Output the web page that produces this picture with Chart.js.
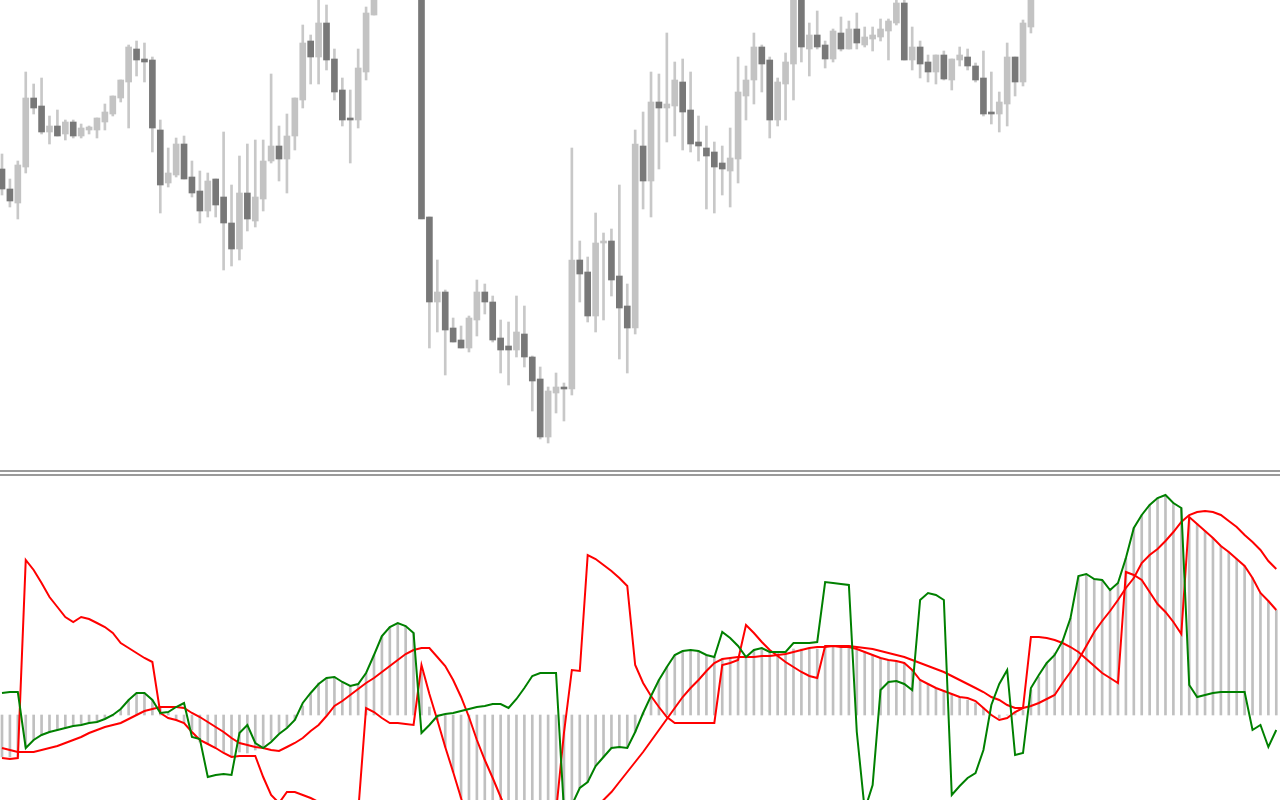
<!DOCTYPE html>
<html>
<head>
<meta charset="utf-8">
<script src="https://cdn.jsdelivr.net/npm/chart.js@4.4.1/dist/chart.umd.min.js"></script>
<style>
  html, body { margin: 0; padding: 0; background: #fff; overflow: hidden; }
  #wrap { position: relative; width: 1280px; height: 800px; }
  #priceChart { position: absolute; left: 0; top: 0; }
  #sep { position: absolute; left: 0; top: 470px; width: 1280px; height: 2px;
         border-top: 2px solid #9a9a9a; border-bottom: 2px solid #9a9a9a; }
  #oscChart { position: absolute; left: 0; top: 477px; }
</style>
</head>
<body>
<div id="wrap">
  <canvas id="priceChart" width="1280" height="470" style="width:1280px;height:470px"></canvas>
  <div id="sep"></div>
  <canvas id="oscChart" width="1280" height="323" style="width:1280px;height:323px"></canvas>
</div>
<script>
// candles (null = above the visible window)
const openP = [
  1831,1811,1797,1833,1902,1894,1868,1874,1866,1878,
  1864,1870,1870,1878,1886,1902,1918,1951,1941,1940,
  1870,1817,1825,1856,1823,1809,1789,1821,1803,1777,
  1751,1807,1779,1801,1839,1854,1841,1864,1900,1959,
  1943,1977,1941,1910,1882,1880,1928,1985,null,null,
  null,null,null,2030,1783,1698,1708,1672,1660,1652,
  1680,1708,1698,1662,1654,1650,1666,1643,1621,1563,
  1607,1613,1611,1740,1728,1684,1757,1759,1724,1694,
  1672,1854,1819,1898,1892,1894,1918,1890,1858,1852,
  1848,1837,1829,1841,1904,1920,1953,1940,1880,1916,
  1936,2000,1951,1965,1955,1941,1967,1951,1971,1955,
  1961,1963,1969,1977,1997,1940,1953,1938,1928,1945,
  1920,1940,1943,1934,1922,1888,1886,1896,1943,1918,
  1973
];
const highP = [
  1846,1821,1839,1928,1916,1922,1884,1890,1880,1880,
  1876,1874,1882,1896,1904,1920,1955,1959,1957,1943,
  1880,1852,1862,1864,1839,1829,1827,1821,1868,1815,
  1844,1856,1860,1860,1926,1874,1886,1902,1975,1965,
  2005,1995,1951,1922,1910,1951,1993,2020,null,null,
  null,null,null,2040,1783,1740,1710,1682,1674,1684,
  1720,1716,1704,1680,1678,1704,1694,1644,1633,1613,
  1627,1617,1852,1759,1743,1787,1767,1771,1815,1716,
  1870,1888,1928,1926,1967,1938,1941,1928,1884,1874,
  1858,1854,1872,1943,1934,1967,1955,1943,1922,1947,
  2010,2005,1977,1989,1959,1971,1983,1979,1987,1973,
  1973,1981,1981,2003,2002,1973,1959,1945,1945,1949,
  1941,1953,1951,1937,1949,1928,1908,1957,1943,1980,
  2010
];
const lowP = [
  1805,1793,1781,1827,1886,1866,1856,1864,1860,1862,
  1862,1866,1862,1870,1884,1898,1872,1924,1918,1848,
  1787,1813,1823,1821,1803,1777,1783,1783,1730,1734,
  1740,1769,1773,1789,1837,1819,1807,1850,1892,1916,
  1916,1930,1900,1874,1837,1872,1920,1985,null,null,
  null,null,null,1781,1652,1668,1625,1658,1652,1648,
  1664,1686,1658,1627,1615,1643,1633,1589,1561,1557,
  1587,1579,1605,1698,1678,1668,1680,1704,1641,1627,
  1666,1791,1783,1831,1858,1864,1850,1848,1839,1791,
  1787,1805,1793,1817,1880,1896,1908,1862,1874,1880,
  1900,1938,1924,1951,1932,1938,1949,1951,1951,1953,
  1949,1959,1940,1975,1940,1930,1922,1918,1916,1920,
  1910,1934,1930,1918,1884,1876,1868,1874,1904,1914,
  1967
];
const closeP = [
  1811,1799,1835,1902,1892,1868,1874,1864,1878,1864,
  1872,1873,1882,1888,1904,1920,1953,1940,1938,1872,
  1815,1827,1856,1821,1807,1789,1819,1795,1777,1751,
  1807,1781,1803,1839,1854,1841,1864,1902,1957,1943,
  1977,1940,1908,1880,1880,1932,1987,2010,null,null,
  null,null,null,1781,1698,1708,1670,1658,1652,1682,
  1708,1698,1660,1650,1650,1668,1643,1619,1563,1609,
  1613,1611,1740,1726,1684,1757,1759,1720,1692,1672,
  1856,1819,1898,1892,1896,1920,1888,1856,1854,1844,
  1833,1831,1842,1908,1920,1953,1936,1880,1918,1938,
  2003,1953,1965,1953,1941,1969,1951,1971,1957,1963,
  1965,1971,1979,1997,1940,1953,1936,1928,1945,1921,
  1941,1945,1934,1920,1886,1886,1898,1943,1918,1977,
  2005
];

// oscillator window
const greenLine = [
  22,23,23,-33,-25,-20,-17,-15,-13,-11,
  -10,-8,-7,-4,0,6,15,22,22,15,
  2,3,8,12,-22,-24,-62,-60,-59,-60,
  -18,-10,-28,-33,-27,-19,-13,-5,12,22,
  31,37,38,33,29,31,42,60,79,88,
  92,89,82,-18,-10,-1,1,2,4,6,
  8,9,11,11,7,16,27,39,42,42,
  42,-95,-90,-73,-67,-51,-42,-33,-32,-33,
  -17,2,19,35,48,60,64,65,64,60,
  58,83,77,69,58,65,67,63,63,63,
  72,72,72,73,133,132,131,130,-17,-95,
  -70,25,33,34,31,25,115,122,120,115,
  -80,-71,-63,-58,-35,10,31,45,-40,-38,
  27,40,52,60,74,97,139,141,136,135,
  125,132,157,187,200,210,217,220,212,207,
  30,18,20,22,23,23,23,23,-15,-10,
  -32,-15
];
const redFast = [
  -43,-44,-43,155,145,132,118,108,98,93,
  98,96,92,88,82,72,67,62,57,53,
  2,-3,-5,-8,-17,-25,-29,-33,-38,-42,
  -41,-41,-41,-62,-80,-88,-77,-77,-80,-83,
  -87,-95,-100,-103,-100,-97,7,3,-3,-8,
  -8,-9,-10,50,21,-5,-32,-57,-83,-110,
  -118,-124,-128,-131,-133,-133,-131,-127,-120,-110,
  -97,-18,45,44,160,156,150,144,137,129,
  50,32,19,8,-2,-8,-8,-8,-8,-8,
  -8,50,52,55,90,82,73,65,59,53,
  48,43,39,37,69,69,69,69,68,67,
  66,64,62,60,58,55,52,49,46,43,
  39,35,31,27,23,18,15,10,7,7,
  78,78,77,75,72,68,63,56,49,42,
  37,32,143,140,135,123,111,103,93,81,
  198,191,184,177,169,163,156,149,137,122,
  114,105
];
const redSlow = [
  -33,-35,-37,-37,-37,-35,-33,-31,-28,-25,
  -22,-18,-15,-12,-10,-8,-4,0,4,6,
  8,8,8,7,2,-2,-7,-12,-17,-23,
  -28,-30,-32,-33,-35,-36,-32,-28,-23,-16,
  -10,-1,9,14,20,26,32,37,43,49,
  55,61,65,67,67,58,49,35,18,-2,
  -25,-45,-63,-82,-100,-107,-113,-117,-120,-121,
  -120,-117,-112,-105,-98,-91,-85,-77,-67,-57,
  -47,-37,-26,-15,-4,7,18,27,35,44,
  52,56,57,58,58,58,59,59,60,61,
  63,65,67,68,68,69,68,68,66,63,
  60,57,55,54,52,45,35,31,27,24,
  21,18,17,14,7,0,-5,-3,3,7,
  9,12,16,20,32,43,55,69,83,94,
  104,115,127,137,152,160,166,174,183,193,
  200,203,204,203,200,194,188,180,173,165,
  154,146
];
const histo = [
  -42,-42,-42,-32,-25,-20,-17,-15,-13,-11,
  -10,-8,-7,-4,-1,5,15,22,22,15,
  7,2,-5,-8,-15,-27,-29,-32,-37,-42,
  -37,-38,-35,-32,-25,-18,-12,-5,9,21,
  32,37,38,33,29,31,42,60,79,88,
  92,89,82,43,8,-5,-32,-57,-83,-110,
  -118,-124,-128,-131,-133,-133,-131,-127,-120,-110,
  -110,-105,-100,-73,-67,-51,-42,-33,-32,-33,
  -17,2,19,35,48,60,64,65,64,60,
  58,56,57,58,58,65,67,63,63,63,
  66,66,66,66,69,69,69,69,65,63,
  60,57,55,54,52,45,35,31,27,24,
  21,18,15,12,7,0,-3,0,3,5,
  25,38,52,62,74,97,138,141,136,135,
  125,132,157,187,200,210,217,220,212,207,
  198,191,184,177,169,163,156,149,137,122,
  114,105
];

// bar i sits at x = 2 + 7.915*i px
const X_MIN = -0.2527;
const X_MAX = 161.47;

let xScale = { type: 'linear', min: X_MIN, max: X_MAX, offset: false, display: false };
let baseOpts = {
  responsive: false,
  animation: false,
  devicePixelRatio: 1,
  layout: { padding: 0 },
  plugins: { legend: { display: false }, tooltip: { enabled: false } }
};

//Price Chart
let wicks = [], bodies = [], bodyColors = [];
openP.forEach((o, i) => {
  if (o == null) return;
  wicks.push({ x: i, y: [lowP[i], highP[i]] });
  bodies.push({ x: i, y: [o, closeP[i]] });
  bodyColors.push(closeP[i] >= o ? '#c3c3c3' : '#787878');
});

new Chart(document.getElementById('priceChart'), {
  type: 'bar',
  data: {
    datasets: [{
      data: bodies,
      backgroundColor: bodyColors,
      barThickness: 6,
      minBarLength: 2,
      grouped: false,
      order: 0
    }, {
      data: wicks,
      backgroundColor: '#c8c8c8',
      barThickness: 2,
      grouped: false,
      order: 1
    }]
  },
  options: Object.assign({}, baseOpts, {
    scales: {
      x: xScale,
      y: { min: 1530, max: 2000, display: false }
    }
  })
});

//Oscillator Chart
let toPts = arr => arr.map((v, i) => ({ x: i, y: v }));
let lineSet = (arr, color, ord) => ({
  type: 'line',
  data: toPts(arr),
  borderColor: color,
  borderWidth: 2,
  pointRadius: 0,
  tension: 0,
  fill: false,
  order: ord
});

new Chart(document.getElementById('oscChart'), {
  type: 'bar',
  data: {
    datasets: [
      lineSet(greenLine, '#008000', 0),
      lineSet(redFast, '#ff0000', 1),
      lineSet(redSlow, '#ff0000', 2),
      {
        data: toPts(histo),
        backgroundColor: '#c0c0c0',
        barThickness: 2,
        grouped: false,
        order: 3
      }
    ]
  },
  options: Object.assign({}, baseOpts, {
    scales: {
      x: xScale,
      y: { min: -85, max: 238, display: false }
    }
  })
});
</script>
</body>
</html>
